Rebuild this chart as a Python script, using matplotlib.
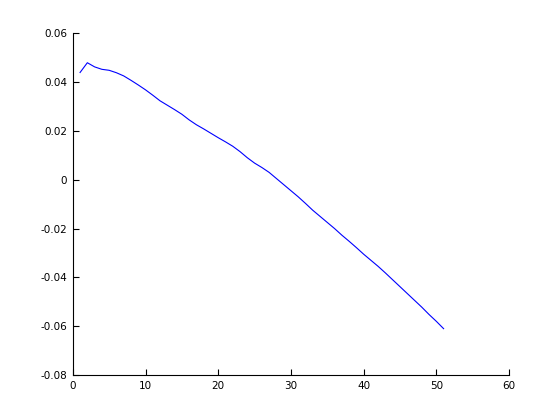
import numpy as np
import matplotlib
matplotlib.use('Agg')
import matplotlib.pyplot as plt

# values, x = 1..51
x = list(range(1, 52))
y = [0.0439, 0.0479, 0.0462, 0.0452, 0.0448, 0.0438, 0.0425, 0.0407, 0.0388, 0.0368,
     0.0346, 0.0323, 0.0305, 0.0287, 0.0268, 0.0245, 0.0225, 0.0208, 0.0190, 0.0172,
     0.0155, 0.0137, 0.0115, 0.0090, 0.0068, 0.0050, 0.0030, 0.0005, -0.0020, -0.0045,
     -0.0070, -0.0097, -0.0125, -0.0150, -0.0175, -0.0200, -0.0227, -0.0252, -0.0278, -0.0305,
     -0.0330, -0.0355, -0.0382, -0.0410, -0.0438, -0.0466, -0.0494, -0.0522, -0.0552, -0.0580,
     -0.0610]

xticks = [0, 10, 20, 30, 40, 50, 60]
yticks = [-0.08, -0.06, -0.04, -0.02, 0, 0.02, 0.04, 0.06]
ytick_labels = ['-0.08', '-0.06', '-0.04', '-0.02', '0', '0.02', '0.04', '0.06']

fig = plt.figure(figsize=(5.6, 4.2), dpi=100)
ax = fig.add_axes([0.13, 0.107, 0.779, 0.814])
ax.plot(x, y, color='#0000ff', linewidth=0.8)

ax.set_xlim(0, 60)
ax.set_ylim(-0.08, 0.06)
ax.set_xticks(xticks)
ax.set_yticks(yticks)
ax.set_yticklabels(ytick_labels)

for side in ['top', 'right']:
    ax.spines[side].set_visible(False)
for side in ['left', 'bottom']:
    ax.spines[side].set_linewidth(0.8)
ax.tick_params(direction='in', length=4, width=0.8, labelsize=7.5, pad=4)

fig.savefig('out.png', dpi=100)
